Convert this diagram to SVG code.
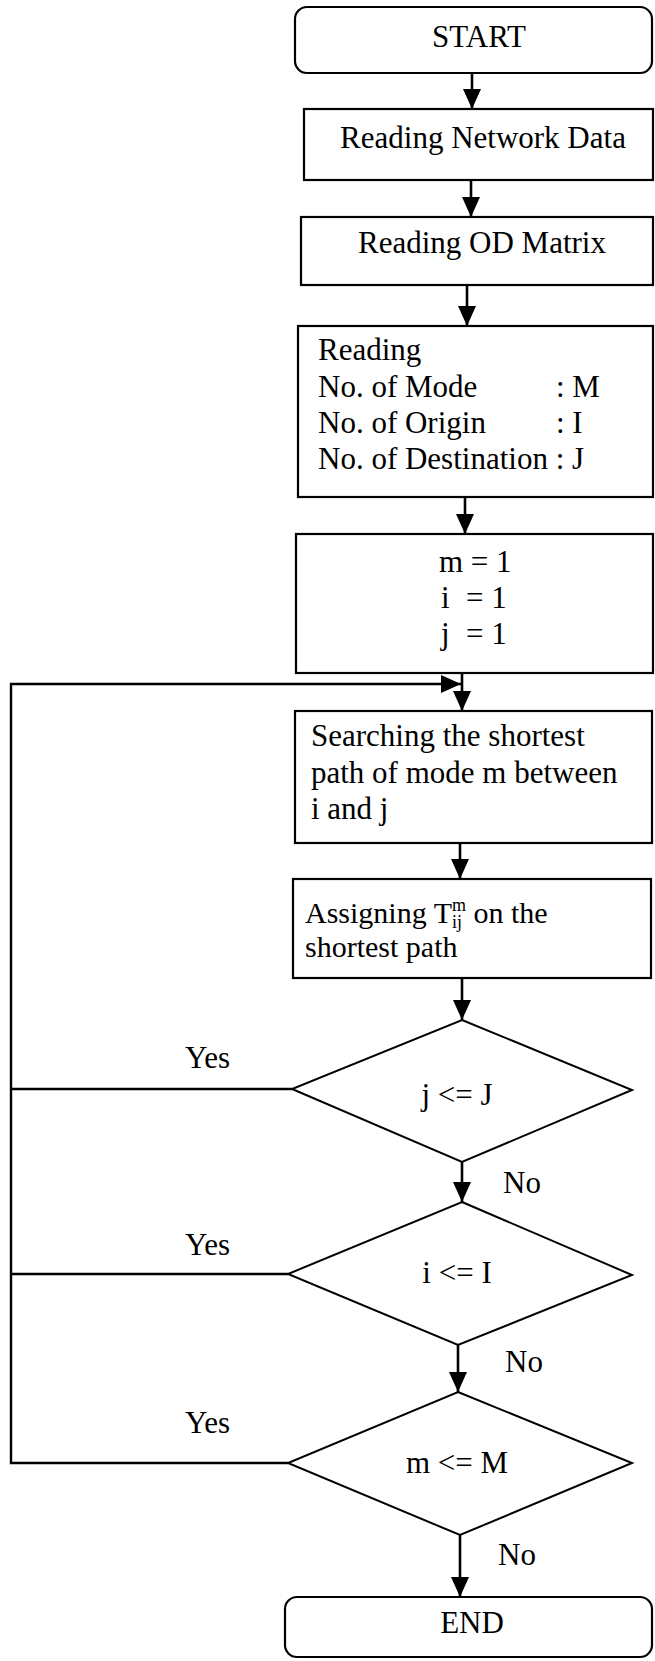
<svg xmlns="http://www.w3.org/2000/svg" width="655" height="1661" viewBox="0 0 655 1661">
  <style>
    .box { fill: #ffffff; stroke: #000000; stroke-width: 2.2; }
    .dia { fill: #ffffff; stroke: #000000; stroke-width: 2; }
    .flow { fill: none; stroke: #000000; stroke-width: 2.6; }
    .loop { fill: none; stroke: #000000; stroke-width: 2.4; }
    .t { font-family: "Liberation Serif", "Times New Roman", serif; font-size: 31px; fill: #000000; }
    .s { font-size: 30px; }
    .c { text-anchor: middle; }
  </style>
  <defs>
    <marker id="ah" viewBox="0 0 20 18" markerWidth="20" markerHeight="18" refX="20" refY="9" orient="auto" markerUnits="userSpaceOnUse">
      <path d="M0,0 L20,9 L0,18 Z" fill="#000000"/>
    </marker>
  </defs>

  <rect width="655" height="1661" fill="#ffffff"/>

  <!-- connectors -->
  <g id="connectors">
    <line class="flow" x1="472" y1="73" x2="472" y2="109" marker-end="url(#ah)"/>
    <line class="flow" x1="471" y1="180" x2="471" y2="217" marker-end="url(#ah)"/>
    <line class="flow" x1="467" y1="285" x2="467" y2="326" marker-end="url(#ah)"/>
    <line class="flow" x1="465" y1="497" x2="465" y2="534" marker-end="url(#ah)"/>
    <line class="flow" x1="462" y1="673" x2="462" y2="711" marker-end="url(#ah)"/>
    <line class="flow" x1="460" y1="843" x2="460" y2="879" marker-end="url(#ah)"/>
    <line class="flow" x1="462" y1="978" x2="462" y2="1020" marker-end="url(#ah)"/>
    <line class="flow" x1="462" y1="1162" x2="462" y2="1202" marker-end="url(#ah)"/>
    <line class="flow" x1="458" y1="1345" x2="458" y2="1392" marker-end="url(#ah)"/>
    <line class="flow" x1="460" y1="1535" x2="460" y2="1597" marker-end="url(#ah)"/>
    <!-- "Yes" branches returning to the shortest-path search -->
    <polyline class="loop" points="292,1089 11,1089"/>
    <polyline class="loop" points="288,1274 11,1274"/>
    <polyline class="loop" points="288,1463 11,1463 11,684 461,684" marker-end="url(#ah)"/>
  </g>

  <g id="start">
    <rect class="box" x="295" y="7" width="357" height="66" rx="12"/>
    <text class="t c" x="479" y="47">START</text>
  </g>

  <g id="read-network">
    <rect class="box" x="304" y="109" width="349" height="71"/>
    <text class="t c" x="483" y="148">Reading Network Data</text>
  </g>

  <g id="read-od">
    <rect class="box" x="301" y="217" width="352" height="68"/>
    <text class="t c" x="482" y="253">Reading OD Matrix</text>
  </g>

  <g id="read-sizes">
    <rect class="box" x="298" y="326" width="355" height="171"/>
    <text class="t" x="318" y="360">Reading</text>
    <text class="t"><tspan x="318" y="397">No. of Mode</tspan><tspan x="556" y="397">: M</tspan></text>
    <text class="t"><tspan x="318" y="433">No. of Origin</tspan><tspan x="556" y="433">: I</tspan></text>
    <text class="t" x="318" y="469">No. of Destination : J</text>
  </g>

  <g id="init">
    <rect class="box" x="296" y="534" width="357" height="139"/>
    <text class="t" x="439" y="572">m = 1</text>
    <text class="t"><tspan x="441" y="608">i</tspan><tspan x="466" y="608">= 1</tspan></text>
    <text class="t"><tspan x="441" y="644">j</tspan><tspan x="466" y="644">= 1</tspan></text>
  </g>

  <g id="search">
    <rect class="box" x="295" y="711" width="357" height="132"/>
    <text class="t" x="311" y="746">Searching the shortest</text>
    <text class="t" x="311" y="783">path of mode m between</text>
    <text class="t" x="311" y="819">i and j</text>
  </g>

  <g id="assign">
    <rect class="box" x="293" y="879" width="358" height="99"/>
    <text class="t s" x="305" y="923">Assigning T<tspan font-size="18" dy="-12">m</tspan><tspan font-size="18" dx="-14" dy="17">ij</tspan><tspan dx="4" dy="-5"> on the</tspan></text>
    <text class="t s" x="305" y="957">shortest path</text>
  </g>

  <g id="check-j">
    <polygon class="dia" points="462,1020 632,1090 462,1162 292,1089"/>
    <text class="t c" x="457" y="1105">j &lt;= J</text>
    <text class="t" x="185" y="1068">Yes</text>
    <text class="t" x="503" y="1193">No</text>
  </g>

  <g id="check-i">
    <polygon class="dia" points="462,1202 632,1275 458,1345 288,1274"/>
    <text class="t c" x="457" y="1283">i &lt;= I</text>
    <text class="t" x="185" y="1255">Yes</text>
    <text class="t" x="505" y="1372">No</text>
  </g>

  <g id="check-m">
    <polygon class="dia" points="458,1392 632,1463 460,1535 288,1463"/>
    <text class="t c" x="457" y="1473">m &lt;= M</text>
    <text class="t" x="185" y="1433">Yes</text>
    <text class="t" x="498" y="1565">No</text>
  </g>

  <g id="end">
    <rect class="box" x="285" y="1597" width="367" height="60" rx="12"/>
    <text class="t c" x="472" y="1633">END</text>
  </g>
</svg>
